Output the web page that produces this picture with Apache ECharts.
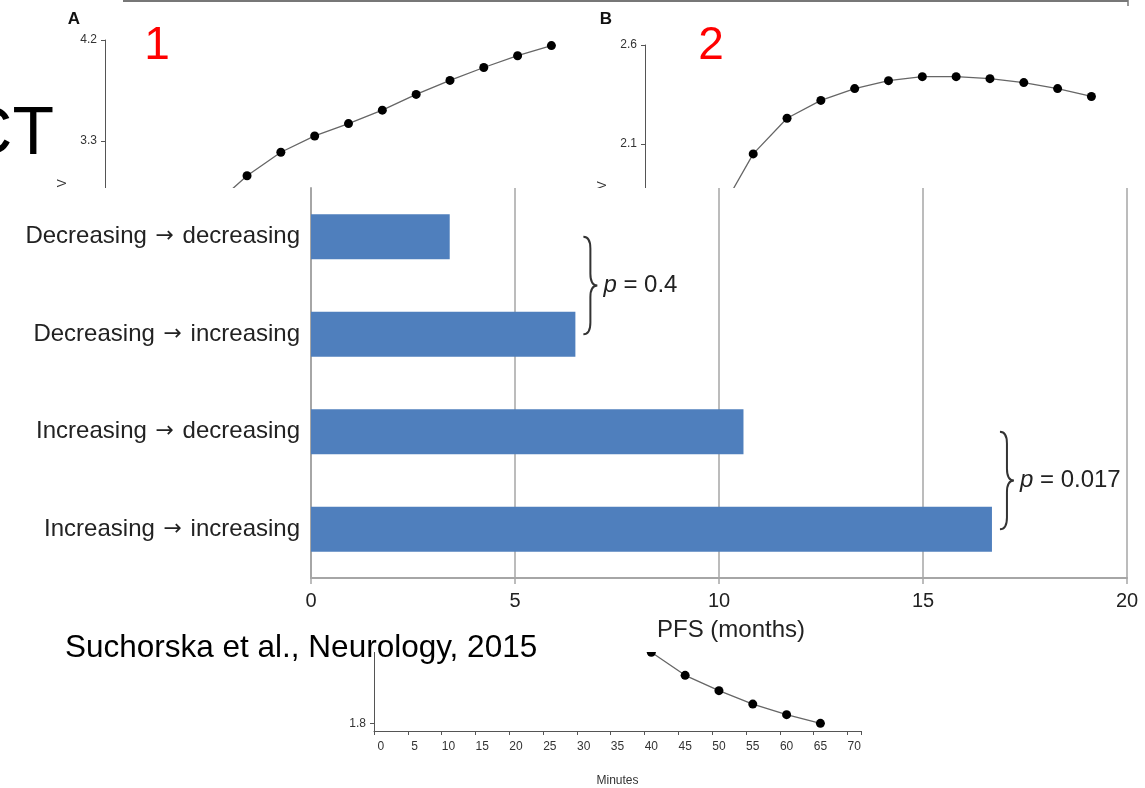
<!DOCTYPE html>
<html>
<head>
<meta charset="utf-8">
<script src="https://cdn.jsdelivr.net/npm/echarts@6/dist/echarts.min.js"></script>
<style>
  html, body { margin: 0; padding: 0; background: #fff; }
  #main { width: 1145px; height: 788px; }
</style>
</head>
<body>
<div id="main"></div>
<script>
// PFS by SUV pattern (front chart)
const groups = ['Decreasing → decreasing', 'Decreasing → increasing', 'Increasing → decreasing', 'Increasing → increasing'];
const pfsMonths = [3.4, 6.48, 10.6, 16.69];
// groups compared and their p values
const comparePairs = [[0, 1], [2, 3]];
const pValues = ['0.4', '0.017'];

// SUV curves behind the chart (minutes -> SUV)
const minutesA = [15, 20, 25, 30, 35, 40, 45, 50, 55, 60, 65];
const suvA = [2.72, 2.99, 3.2, 3.345, 3.455, 3.575, 3.715, 3.84, 3.955, 4.06, 4.15];
const minutesB = [10, 15, 20, 25, 30, 35, 40, 45, 50, 55, 60, 65];
const suvB = [1.75, 2.05, 2.23, 2.32, 2.38, 2.42, 2.44, 2.44, 2.43, 2.41, 2.38, 2.34];
const minutesC = [35, 40, 45, 50, 55, 60, 65];
const suvC = [2.3, 2.17, 2.05, 1.97, 1.9, 1.845, 1.8];
const suvTicksC = [1.8, 2.3];

const font = '"Liberation Sans", Arial, sans-serif';

let myChart = echarts.init(document.getElementById('main'));

// small SUV panel axes
function panelX(idx, showName) {
  return {
    type: 'value', gridIndex: idx, min: -1, max: 71, interval: 5, z: 1,
    name: showName ? 'Minutes' : '', nameLocation: 'middle', nameGap: 44,
    nameTextStyle: { fontSize: 12, color: '#333', fontFamily: font },
    axisLine: { onZero: false, lineStyle: { color: '#555', width: 1 } },
    axisTick: { show: true, length: 4, lineStyle: { color: '#555' } },
    axisLabel: { fontSize: 12, color: '#333', fontFamily: font, margin: 10,
      customValues: [0, 5, 10, 15, 20, 25, 30, 35, 40, 45, 50, 55, 60, 65, 70] },
    splitLine: { show: false }
  };
}
function panelY(idx, min, max, interval, custom) {
  let ax = {
    type: 'value', gridIndex: idx, min: min, max: max, interval: interval, z: 1,
    name: 'SUV', nameLocation: 'middle', nameGap: 36,
    nameTextStyle: { fontSize: 12, color: '#333', fontFamily: font },
    axisLine: { show: true, onZero: false, lineStyle: { color: '#555', width: 1 } },
    axisTick: { show: true, length: 4, lineStyle: { color: '#555' } },
    axisLabel: { fontSize: 12, color: '#333', fontFamily: font, margin: 8,
      formatter: v => v.toFixed(1) },
    splitLine: { show: false }
  };
  if (custom) {
    ax.axisLabel.customValues = custom;
    ax.axisTick.customValues = custom;
  }
  return ax;
}
function panelSeries(idx, mins, vals) {
  return {
    type: 'line', xAxisIndex: idx, yAxisIndex: idx, z: 2,
    data: mins.map((m, i) => [m, vals[i]]),
    symbol: 'circle', symbolSize: 9,
    itemStyle: { color: '#000' },
    lineStyle: { color: '#666', width: 1.3 },
    silent: true
  };
}

// curly bracket between two bars
function renderBrace(params, api) {
  const a = api.coord([api.value(0), api.value(1)]);
  const b = api.coord([api.value(0), api.value(2)]);
  const x0 = a[0] + 8, y0 = a[1], y1 = b[1];
  const w = 14, ym = (y0 + y1) / 2, xm = x0 + w / 2;
  const c = Math.min(12, (y1 - y0) * 0.12);
  const d = 'M' + x0 + ' ' + y0 + ' Q' + xm + ' ' + y0 + ' ' + xm + ' ' + (y0 + c) +
    ' L' + xm + ' ' + (ym - c) + ' Q' + xm + ' ' + ym + ' ' + (x0 + w) + ' ' + ym +
    ' Q' + xm + ' ' + ym + ' ' + xm + ' ' + (ym + c) +
    ' L' + xm + ' ' + (y1 - c) + ' Q' + xm + ' ' + y1 + ' ' + x0 + ' ' + y1;
  return {
    type: 'group',
    children: [
      { type: 'path', shape: { pathData: d }, style: { fill: 'none', stroke: '#333', lineWidth: 2 } },
      { type: 'text', x: x0 + w + 6, y: ym,
        style: { text: '{i|p} = ' + pValues[params.dataIndex], fontSize: 24, fontFamily: font, fill: '#222',
          align: 'left', verticalAlign: 'middle',
          rich: { i: { fontStyle: 'italic', fontSize: 24, fontFamily: font, fill: '#222' } } } }
    ]
  };
}

let option = {
  backgroundColor: '#fff',
  animation: false,
  grid: [
    { left: 105, top: 40, width: 487, height: 303 },
    { left: 645, top: 45, width: 487, height: 297 },
    { left: 374, top: 539, width: 487, height: 200 },
    { left: 311, top: 188, width: 816, height: 390, z: 50 }
  ],
  xAxis: [
    panelX(0, false), panelX(1, false), panelX(2, true),
    {
      type: 'value', gridIndex: 3, min: 0, max: 20, interval: 5, z: 51,
      name: 'PFS (months)', nameLocation: 'middle', nameGap: 40,
      nameTextStyle: { fontSize: 24, color: '#222', fontFamily: font, padding: [0, 0, 0, 24] },
      axisLine: { show: true, lineStyle: { color: '#a6a6a6', width: 2 } },
      axisTick: { show: true, length: 6, lineStyle: { color: '#a6a6a6', width: 1.5 } },
      axisLabel: { fontSize: 20, color: '#222', fontFamily: font, margin: 13 },
      splitLine: { show: true, lineStyle: { color: '#a6a6a6', width: 1.5 } }
    }
  ],
  yAxis: [
    panelY(0, 1.5, 4.2, 0.9),
    panelY(1, 1.1, 2.6, 0.5),
    panelY(2, 1.76, 2.76, 0.5, suvTicksC),
    {
      type: 'category', gridIndex: 3, data: groups, inverse: true, z: 51,
      axisLine: { show: true, lineStyle: { color: '#a6a6a6', width: 2 } },
      axisTick: { show: false },
      axisLabel: {
        fontSize: 24, color: '#222', fontFamily: font, margin: 11,
        formatter: v => v.replace('→', '{a|→}'),
        rich: { a: { fontSize: 22, fontFamily: '"DejaVu Sans", sans-serif', color: '#222', padding: [0, 2, 0, 2] } }
      },
      splitLine: { show: false }
    }
  ],
  graphic: [
    { type: 'line', shape: { x1: 123, y1: 1, x2: 1128, y2: 1 }, style: { stroke: '#777', lineWidth: 2 }, z: 3 },
    { type: 'line', shape: { x1: 1128, y1: 0, x2: 1128, y2: 6 }, style: { stroke: '#777', lineWidth: 1.5 }, z: 3 },
    { type: 'text', x: 54, y: 135, z: 3,
      style: { text: 'CT', fontSize: 68, fontFamily: font, fill: '#000', align: 'right', verticalAlign: 'middle' } },
    { type: 'text', x: 157, y: 46, z: 3,
      style: { text: '1', fontSize: 46, fontFamily: font, fill: '#ff0000', align: 'center', verticalAlign: 'middle' } },
    { type: 'text', x: 711, y: 46, z: 3,
      style: { text: '2', fontSize: 46, fontFamily: font, fill: '#ff0000', align: 'center', verticalAlign: 'middle' } },
    { type: 'text', x: 74, y: 19, z: 3,
      style: { text: 'A', fontSize: 17, fontWeight: 'bold', fontFamily: font, fill: '#111', align: 'center', verticalAlign: 'middle' } },
    { type: 'text', x: 606, y: 19, z: 3,
      style: { text: 'B', fontSize: 17, fontWeight: 'bold', fontFamily: font, fill: '#111', align: 'center', verticalAlign: 'middle' } },
    // white panel of the front chart
    { type: 'rect', shape: { x: 0, y: 188, width: 1145, height: 464 }, style: { fill: '#fff' }, z: 50 },
    { type: 'text', x: 65, y: 648, z: 60,
      style: { text: 'Suchorska et al., Neurology, 2015', fontSize: 31.5, fontFamily: font, fill: '#000', align: 'left', verticalAlign: 'middle' } }
  ],
  series: [
    panelSeries(0, minutesA, suvA),
    panelSeries(1, minutesB, suvB),
    panelSeries(2, minutesC, suvC),
    {
      type: 'bar', xAxisIndex: 3, yAxisIndex: 3, z: 52,
      data: pfsMonths, barWidth: '46%',
      itemStyle: { color: '#4f7fbd' }
    },
    {
      type: 'custom', xAxisIndex: 3, yAxisIndex: 3, z: 53,
      data: comparePairs.map(p => [Math.max(pfsMonths[p[0]], pfsMonths[p[1]]), p[0], p[1]]),
      encode: { x: 0, y: 1 },
      renderItem: renderBrace
    }
  ]
};

myChart.setOption(option);
</script>
</body>
</html>
